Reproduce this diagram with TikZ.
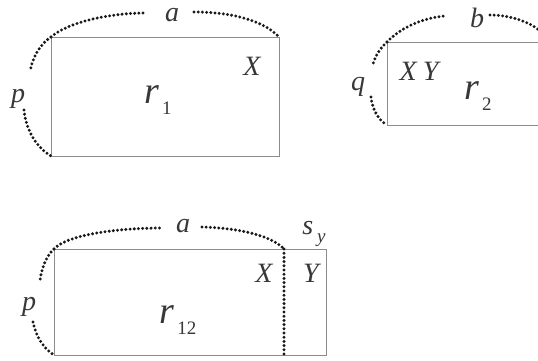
\documentclass[tikz,border=0pt]{standalone}
\usepackage{fontspec}
\setmainfont{Liberation Serif}
\begin{document}
\begin{tikzpicture}[x=1pt,y=-1pt,
  box/.style={draw=black!45,line width=0.9pt},
  dots/.style={draw=black!90,line width=3.3pt,line cap=round,dash pattern=on 0pt off 4.2pt},
  lbl/.style={inner sep=0pt,text=black!78,font=\fontsize{28}{28}\selectfont\itshape},
  big/.style={inner sep=0pt,text=black!78,font=\fontsize{38}{38}\selectfont}]
\useasboundingbox[fill=white] (0,0) rectangle (538,361);
% ---------- r1 ----------
\coordinate (r1nw) at (51,37);
\coordinate (r1se) at (279,156);
\coordinate (r1ne) at (279,37);
\coordinate (r1sw) at (51,156);
\draw[box] (r1nw) rectangle (r1se);
\node[lbl] (a1) at (172,15) {a};
\node[lbl] (p1) at (18,99) {p};
\node[lbl] (x1) at (252,66) {X};
\node[big] (r1) at (158,100) {\itshape r\kern3pt\raisebox{-0.3em}{\fontsize{19}{19}\selectfont\upshape 1}};
\coordinate (a1l) at (146,13);
\coordinate (a1r) at (194,12);
\coordinate (p1u) at (30,72);
\coordinate (p1d) at (24,110);
\draw[dots] (r1nw) .. controls (68,22) and (110,13) .. (a1l);
\draw[dots] (a1r) .. controls (235,12) and (265,22) .. (r1ne);
\draw[dots] (r1nw) .. controls (40,44) and (32,58) .. (p1u);
\draw[dots] (p1d) .. controls (26,130) and (36,147) .. (r1sw);
% ---------- r2 ----------
\coordinate (r2nw) at (387,42);
\coordinate (r2sw) at (387,125);
\draw[box] (545,42) -- (r2nw) -- (r2sw) -- (545,125);
\node[lbl] (b2) at (477,18) {b};
\node[lbl] (q2) at (358,87) {q};
\node[lbl] (xy2) at (419,71) {X\kern6pt Y};
\node[big] (r2) at (478,96) {\itshape r\kern3pt\raisebox{-0.3em}{\fontsize{19}{19}\selectfont\upshape 2}};
\coordinate (b2l) at (445,16);
\coordinate (b2r) at (490,15);
\coordinate (b2e) at (540,31);
\coordinate (q2u) at (373,64);
\coordinate (q2d) at (371,97);
\draw[dots] (r2nw) .. controls (398,30) and (420,18) .. (b2l);
\draw[dots] (b2r) .. controls (510,15) and (530,22) .. (b2e);
\draw[dots] (r2nw) .. controls (380,48) and (375,57) .. (q2u);
\draw[dots] (q2d) .. controls (372,108) and (378,120) .. (r2sw);
% ---------- r12 ----------
\coordinate (r3nw) at (54,249);
\coordinate (r3se) at (326,355);
\coordinate (r3sw) at (54,355);
\coordinate (st) at (284,249);
\coordinate (sb) at (284,355);
\draw[box] (r3nw) rectangle (r3se);
\draw[dots] (st) -- (sb);
\node[lbl] (a3) at (183,226) {a};
\node[lbl] (p3) at (29,307) {p};
\node[lbl] (x3) at (264,273) {X};
\node[lbl] (y3) at (311,273) {Y};
\node[lbl] (s3) at (314,234) {s\kern4pt\raisebox{-0.3em}{\fontsize{19}{19}\selectfont y}};
\node[big] (r3) at (178,320) {\itshape r\kern3pt\raisebox{-0.3em}{\fontsize{19}{19}\selectfont\upshape 12}};
\coordinate (a3l) at (163,228);
\coordinate (a3r) at (202,227);
\coordinate (p3u) at (40,281);
\coordinate (p3d) at (33,322);
\draw[dots] (r3nw) .. controls (68,234) and (120,228) .. (a3l);
\draw[dots] (a3r) .. controls (240,228) and (272,236) .. (st);
\draw[dots] (r3nw) .. controls (46,256) and (41,270) .. (p3u);
\draw[dots] (p3d) .. controls (36,337) and (44,349) .. (r3sw);
\end{tikzpicture}
\end{document}
